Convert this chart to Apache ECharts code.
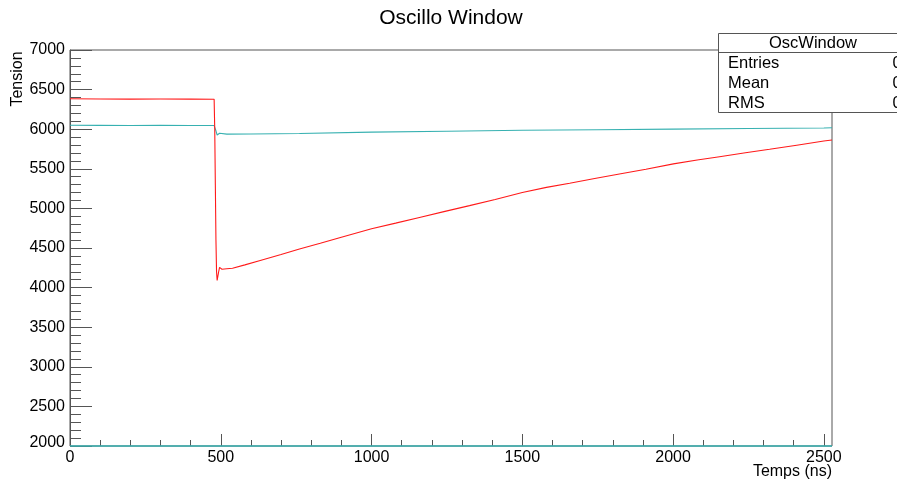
<!DOCTYPE html>
<html>
<head>
<meta charset="utf-8">
<script src="https://cdn.jsdelivr.net/npm/echarts@6/dist/echarts.min.js"></script>
<style>
html,body{margin:0;padding:0;background:#fff;}
#chart{width:897px;height:483px;}
</style>
</head>
<body>
<div id="chart"></div>
<script>
// ---- data ----
var ch1Times = [0, 100, 200, 300, 400, 478, 480, 482, 484, 486, 488, 490, 493, 496, 500, 504, 520, 539, 580, 628, 700, 761, 830, 894, 1000, 1080, 1159, 1240, 1325, 1410, 1500, 1580, 1657, 1740, 1822, 1910, 2001, 2080, 2154, 2240, 2320, 2410, 2500, 2527];
var ch1Values = [6385, 6382, 6380, 6381, 6380, 6378, 6000, 5300, 4600, 4200, 4090, 4110, 4200, 4256, 4240, 4232, 4238, 4244, 4287, 4339, 4418, 4488, 4561, 4630, 4742, 4814, 4886, 4959, 5035, 5112, 5200, 5265, 5318, 5377, 5434, 5495, 5562, 5611, 5653, 5702, 5747, 5798, 5850, 5864];
var ch2Times = [0, 100, 200, 300, 400, 478, 480, 484, 488, 496, 520, 600, 761, 1000, 1250, 1500, 1750, 2000, 2250, 2500, 2527];
var ch2Values = [6049, 6048, 6047, 6048, 6047, 6046, 6040, 5980, 5927, 5948, 5938, 5940, 5945, 5963, 5975, 5987, 5994, 6001, 6009, 6016, 6018];
var ch3Times = [0, 2527];
var ch3Values = [2000, 2000];
var xTickMax = 2500;
var statLabels = ['Entries', 'Mean', 'RMS'];
var statValues = ['0', '0', '0'];

function pairs(t, v) { return t.map(function (x, i) { return [x, v[i]]; }); }

var FAM = "'Liberation Sans', Arial, Helvetica, sans-serif";
var chart = echarts.init(document.getElementById('chart'), null, {renderer: 'canvas'});

var graphics = [
  {type: 'text', x: 451, y: 18, style: {text: 'Oscillo Window', font: '21px ' + FAM, fill: '#000', textAlign: 'center', textVerticalAlign: 'middle'}},
  {type: 'text', x: 18, y: 79, rotation: Math.PI / 2, style: {text: 'Tension', font: '16px ' + FAM, fill: '#000', textAlign: 'center', textVerticalAlign: 'middle'}},
  {type: 'text', x: 832, y: 472, style: {text: 'Temps (ns)', font: '16px ' + FAM, fill: '#000', textAlign: 'right', textVerticalAlign: 'middle'}},
  {type: 'rect', z: 100, shape: {x: 718.5, y: 33.5, width: 200, height: 79}, style: {fill: '#fff', stroke: '#555', lineWidth: 1}},
  {type: 'line', z: 101, shape: {x1: 718.5, y1: 52.5, x2: 900, y2: 52.5}, style: {stroke: '#555', lineWidth: 1}},
  {type: 'text', z: 102, x: 813, y: 43.5, style: {text: 'OscWindow', font: '16.5px ' + FAM, fill: '#000', textAlign: 'center', textVerticalAlign: 'middle'}}
];
statLabels.forEach(function (lab, i) {
  graphics.push({type: 'text', z: 102, x: 728, y: 63.5 + i * 20, style: {text: lab, font: '16.5px ' + FAM, fill: '#000', textAlign: 'left', textVerticalAlign: 'middle'}});
  graphics.push({type: 'text', z: 102, x: 892.5, y: 63.5 + i * 20, style: {text: statValues[i], font: '16.5px ' + FAM, fill: '#000', textAlign: 'left', textVerticalAlign: 'middle'}});
});

var option = {
  animation: false,
  backgroundColor: '#fff',
  textStyle: {fontFamily: FAM},
  grid: [
    {left: 70, right: 65, top: 50, bottom: 37, show: true, borderColor: '#555', borderWidth: 1, backgroundColor: 'transparent'},
    {left: 70, width: 762 * xTickMax / 2527, top: 50, bottom: 37, show: false}
  ],
  xAxis: [
    {type: 'value', gridIndex: 0, min: 0, max: 2527, show: false},
    {type: 'value', gridIndex: 1, min: 0, max: xTickMax, interval: 500,
     axisLine: {show: false},
     axisTick: {show: true, inside: true, length: 12, lineStyle: {color: '#555'}},
     minorTick: {show: true, splitNumber: 5, length: 6, lineStyle: {color: '#555'}},
     splitLine: {show: false},
     axisLabel: {fontSize: 16, color: '#000', margin: 4, fontFamily: FAM, formatter: function (v) { return String(v); }}}
  ],
  yAxis: [
    {type: 'value', gridIndex: 0, min: 2000, max: 7000, interval: 500,
     axisLine: {show: true, lineStyle: {color: '#555'}},
     axisTick: {show: true, inside: true, length: 22, lineStyle: {color: '#555'}},
     minorTick: {show: true, splitNumber: 5, length: 11, lineStyle: {color: '#555'}},
     splitLine: {show: false},
     axisLabel: {fontSize: 16, color: '#000', margin: 5, fontFamily: FAM,
       formatter: function (v) { return v === 2000 ? '{low|' + v + '}' : String(v); },
       rich: {low: {fontSize: 16, fontFamily: FAM, color: '#000', padding: [0, 0, 6, 0]}}}},
    {type: 'value', gridIndex: 1, min: 2000, max: 7000, show: false}
  ],
  series: [
    {type: 'line', xAxisIndex: 0, yAxisIndex: 0, data: pairs(ch3Times, ch3Values), showSymbol: false, clip: false, lineStyle: {color: '#37b1b1', width: 1.5}, z: 3},
    {type: 'line', xAxisIndex: 0, yAxisIndex: 0, data: pairs(ch2Times, ch2Values), showSymbol: false, lineStyle: {color: '#37b1b1', width: 1.1}, z: 3},
    {type: 'line', xAxisIndex: 0, yAxisIndex: 0, data: pairs(ch1Times, ch1Values), showSymbol: false, lineStyle: {color: '#ff1a1a', width: 1.1}, z: 4}
  ],
  graphic: graphics
};
chart.setOption(option);
</script>
</body>
</html>
